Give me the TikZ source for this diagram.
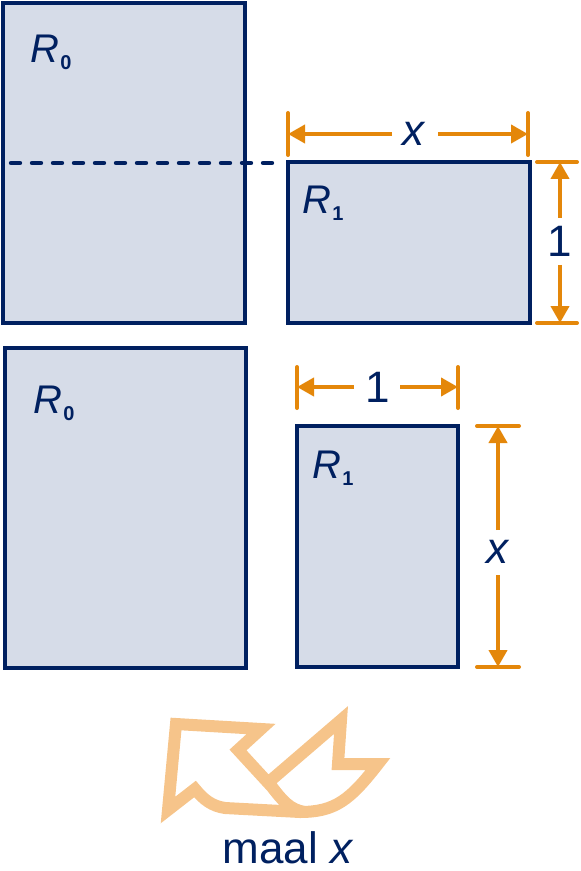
\documentclass[tikz,border=0pt]{standalone}
\usepackage{fontspec}
\setmainfont{Liberation Sans}
\usetikzlibrary{arrows.meta}
\definecolor{navy}{RGB}{0,32,96}
\definecolor{boxfill}{RGB}{214,220,232}
\definecolor{dimorange}{RGB}{228,135,10}
\definecolor{paleorange}{RGB}{246,196,138}
\newcommand{\Rsub}[1]{\textit{R}\kern0.5pt\raisebox{-3.5pt}{\fontsize{10}{10}\selectfont\bfseries #1}}

\begin{document}
\begin{tikzpicture}[x=0.5pt,y=-0.5pt,
  box/.style={draw=navy,fill=boxfill,line width=2pt,inner sep=0pt},
  dim/.style={draw=dimorange,line width=2pt,-{Triangle[width=9pt,length=8.5pt]}},
  tick/.style={draw=dimorange,line width=2pt,line cap=round},
  lbl/.style={text=navy,font=\fontsize{22}{24}\selectfont,inner sep=0pt},
  rlbl/.style={text=navy,font=\fontsize{20}{22}\selectfont,anchor=base west,inner sep=0pt}]
\useasboundingbox (0,0) rectangle (580,871);

% top pair
\node[box,minimum width=121pt,minimum height=160pt] (r0top) at (124,163) {};
\node[box,minimum width=121pt,minimum height=80.5pt] (r1top) at (409,242.5) {};
\draw[navy,line width=2.2pt,dashed,dash pattern=on 4.5pt off 6pt,line cap=round]
  ([xshift=5pt]r0top.west) -- ([xshift=-5pt]r1top.north west |- r0top.west);
\node[rlbl] at (30,63) {\Rsub{0}};
\node[rlbl] at (302,214) {\Rsub{1}};

% width x
\draw[tick] (288,113) -- (288,155);
\draw[tick] (528,113) -- (528,155);
\node[lbl] (wx) at (414,134) {\textit{x}};
\draw[dim] (wx) ++(-22,0) -- (288,134);
\draw[dim] (wx) ++(24,0) -- (528,134);

% height 1
\draw[tick] (537,162) -- (577,162);
\draw[tick] (537,323) -- (577,323);
\node[lbl] (h1) at (560,241) {1};
\draw[dim] (h1) ++(0,-23) -- (560,162);
\draw[dim] (h1) ++(0,24) -- (560,323);

% bottom pair
\node[box,minimum width=120.5pt,minimum height=160pt] (r0bot) at (125.5,508) {};
\node[box,minimum width=80.5pt,minimum height=120.5pt] (r1bot) at (377.5,546.5) {};
\node[rlbl] at (33,413) {\Rsub{0}};
\node[rlbl] at (312,478) {\Rsub{1}};

% width 1
\draw[tick] (297,367) -- (297,408);
\draw[tick] (458,367) -- (458,408);
\node[lbl] (w1) at (378,387) {1};
\draw[dim] (w1) ++(-24,0) -- (297,387);
\draw[dim] (w1) ++(22,0) -- (458,387);

% height x
\draw[tick] (477,426) -- (519,426);
\draw[tick] (477,667) -- (519,667);
\node[lbl] (hx) at (498,552) {\textit{x}};
\draw[dim] (hx) ++(0,-22) -- (498,426);
\draw[dim] (hx) ++(0,23) -- (498,667);

% folded arrow
\draw[paleorange,line width=6pt,line join=miter,miter limit=10]
  (270,781) -- (341,720) -- (338,764) -- (378,764)
  .. controls (350,800) and (335,812) .. (300,812) -- (225,808)
  .. controls (212,806) and (204,800) .. (195,789) -- (168,810)
  -- (176,724) -- (261,729) -- (238,750) -- (272,787)
  .. controls (282,800) and (290,810) .. (305,812);
\node[lbl,anchor=base] (maal) at (288,863) {maal \textit{x}};
\end{tikzpicture}
\end{document}
